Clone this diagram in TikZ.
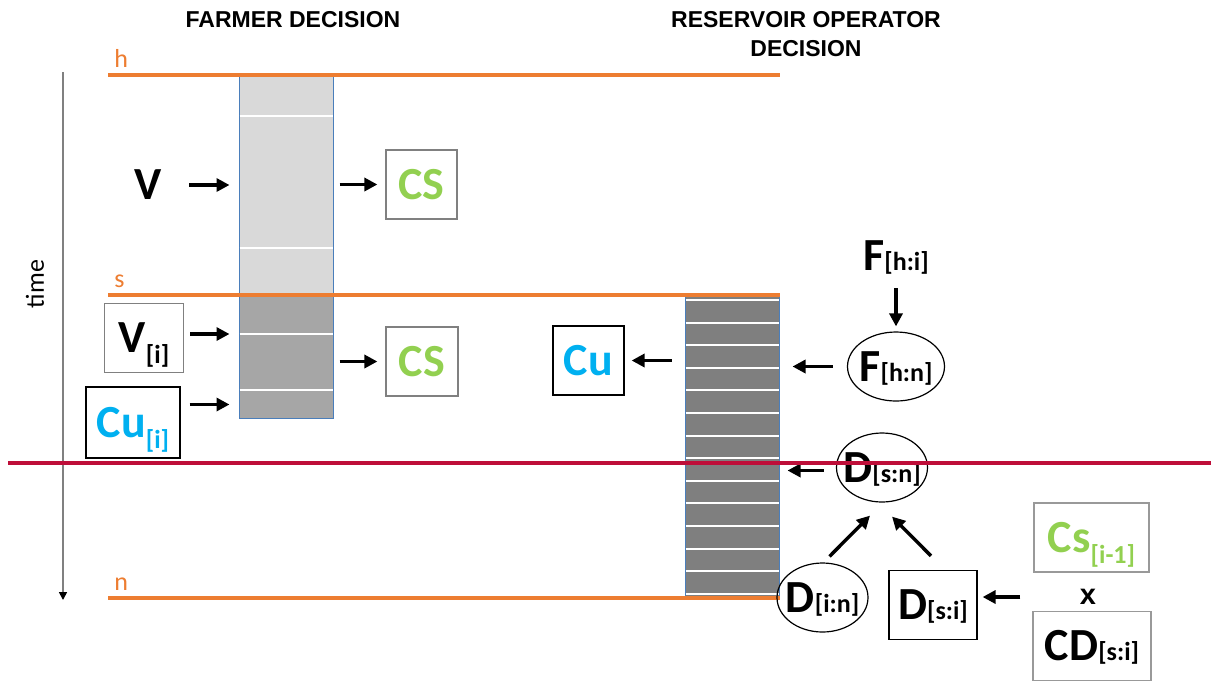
\documentclass[tikz,border=0pt]{standalone}
\usepackage{fontspec}
\setmainfont{Carlito}
\newfontfamily\headfont{Liberation Sans}
\usetikzlibrary{arrows.meta,shapes.geometric,positioning}

\definecolor{levelorange}{RGB}{237,125,49}
\definecolor{cutred}{RGB}{190,14,57}
\definecolor{cublue}{RGB}{0,176,240}
\definecolor{csgreen}{RGB}{146,208,80}
\definecolor{barblue}{RGB}{74,126,187}
\definecolor{barlight}{RGB}{217,217,217}
\definecolor{barmid}{RGB}{166,166,166}
\definecolor{bardark}{RGB}{127,127,127}

% subscripts: lowered ones and small ones on the baseline
\newcommand{\lowsub}[1]{\raisebox{-5.5pt}[0pt][0pt]{\fontsize{13}{13}\selectfont #1}}
\newcommand{\smallsub}[1]{\raisebox{0pt}[0pt][0pt]{\fontsize{13}{13}\selectfont #1}}

\tikzset{
  lbl/.style={font=\fontsize{23}{23}\selectfont\bfseries, inner sep=0pt},
  gbox/.style={lbl, draw=gray, line width=0.6pt, minimum height=34.5pt},
  kbox/.style={gbox, draw=black},
  oval/.style={lbl, ellipse, draw, line width=0.6pt, inner xsep=-4pt, minimum width=45.5pt, minimum height=34.5pt},
  bar/.style={draw=barblue, line width=0.5pt, minimum width=47pt, inner sep=0pt},
  arr/.style={-{Triangle[length=6.5pt,width=6.5pt]}, line width=1.7pt, shorten <=3pt, shorten >=4pt},
  level/.style={levelorange, line width=2pt},
  levellabel/.style={levelorange, font=\fontsize{13}{13}\selectfont, inner sep=0pt, anchor=base west},
  title/.style={font=\headfont\bfseries\fontsize{11.5}{14.5}\selectfont, align=center},
}

\begin{document}
\begin{tikzpicture}[x=0.5pt,y=-0.5pt]
    \useasboundingbox (0,0) rectangle (1211,682);

    % Titles
    \node[title] (farmtitle) at (293,20) {FARMER DECISION};
    \node[title] (restitle) at (806,34) {RESERVOIR OPERATOR\\DECISION};

    % Time axis
    \draw[gray, line width=0.8pt, -{Triangle[length=4pt,width=4pt,color=black]}] (63,72) -- (63,600);
    \node[rotate=90, font=\fontsize{13}{13}\selectfont] (timelabel) at (35,284) {time};

    % Bars
    \node[bar, fill=barlight, minimum height=110pt] (farmtop) at (286,185) {};
    \node[bar, fill=barmid, minimum height=61.5pt] (farmlow) at (286,356.5) {};
    \node[bar, fill=bardark, minimum height=151pt] (resbar) at (732,446) {};
    \foreach \y in {116,248,334,390}
        \draw[white, line width=1pt] (239.5,\y) -- (332.5,\y);
    \foreach \k in {0,...,13}
        \draw[white, line width=1pt] (685.5,300+\k*22.6) -- (778.5,300+\k*22.6);

    % Time levels
    \foreach \lab/\y in {h/75, s/295, n/598}{
        \draw[level] (108,\y) -- (780,\y);
        \node[levellabel] (lev\lab) at (114,\y-7.5) {\lab};
    }

    % Farmer side
    \node[lbl] (vtxt) at (148,185) {V};
    \node[gbox, minimum width=39.5pt] (vi) at (144,338) {V\lowsub{[i]}};
    \node[kbox, minimum width=47pt, minimum height=35.5pt, text=cublue] (cui) at (133,422.5) {Cu\lowsub{[i]}};
    \node[gbox, minimum width=35.5pt, text=csgreen] (cs1) at (421.5,184.5) {CS};
    \node[gbox, minimum width=36pt, text=csgreen] (cs2) at (422,361.5) {CS};

    \draw[arr, shorten <=13.5pt, shorten >=4.5pt] (vtxt) -- (vtxt -| farmtop.west);
    \draw[arr, shorten >=4.5pt] ([yshift=2pt]vi.east) -- ([yshift=2pt]vi.east -| farmlow.west);
    \coordinate (cuiout) at ([yshift=9pt]cui.east);
    \draw[arr, shorten <=4.5pt, shorten >=4.5pt] (cuiout) -- (cuiout -| farmlow.west);
    \draw[arr] (farmtop.east |- cs1) -- (cs1);
    \draw[arr] (farmlow.east |- cs2) -- (cs2);

    % Reservoir operator side
    \node[kbox, minimum width=35.5pt, text=cublue] (cu) at (588.5,360.5) {Cu};
    \node[lbl] (fhi) at (896,256) {F\smallsub{[h:i]}};
    \node[oval, minimum width=48.5pt] (fhn) at (896,366.5) {F\smallsub{[h:n]}};
    \node[oval] (dsn) at (882,467.5) {D\smallsub{[s:n]}};
    \node[oval] (din) at (822.5,597.5) {D\smallsub{[i:n]}};
    \node[kbox, minimum width=44pt] (dsi) at (933,605) {D\smallsub{[s:i]}};
    \node[gbox, draw=gray!80, minimum width=57.5pt, text=csgreen] (csprev) at (1091.5,537.5) {Cs\lowsub{[i-1]}};
    \node[font=\headfont\bfseries\fontsize{14.5}{14.5}\selectfont, inner sep=0pt] (times) at (1088,597) {x};
    \node[gbox, draw=gray!80, minimum width=59pt] (cd) at (1092,646) {CD\smallsub{[s:i]}};

    \draw[arr, shorten <=6.5pt, shorten >=3.5pt] (resbar.west |- cu) -- (cu);
    \draw[arr, shorten <=8.5pt, shorten >=2.5pt] (fhi) -- (fhn);
    \draw[arr, shorten <=7pt, shorten >=6.5pt] (fhn) -- (fhn -| resbar.east);
    \draw[arr, shorten <=6pt, shorten >=4pt] ([yshift=-1.5pt]dsn.west) -- ([yshift=-1.5pt]dsn.west -| resbar.east);
    \draw[arr, shorten <=0pt, shorten >=0pt] ([shift={(7,-6)}]din.north) -- ([shift={(-12,13)}]dsn.south);
    \draw[arr, shorten <=0pt, shorten >=0pt] ([shift={(-2,-14)}]dsi.north) -- ([shift={(10,14)}]dsn.south);
    \draw[arr, shorten <=6pt, shorten >=2.5pt] (cd.west |- times) -- (times -| dsi.east);

    % Cut line
    \draw[cutred, line width=2pt] (8,463) -- (1211,463);
\end{tikzpicture}
\end{document}
